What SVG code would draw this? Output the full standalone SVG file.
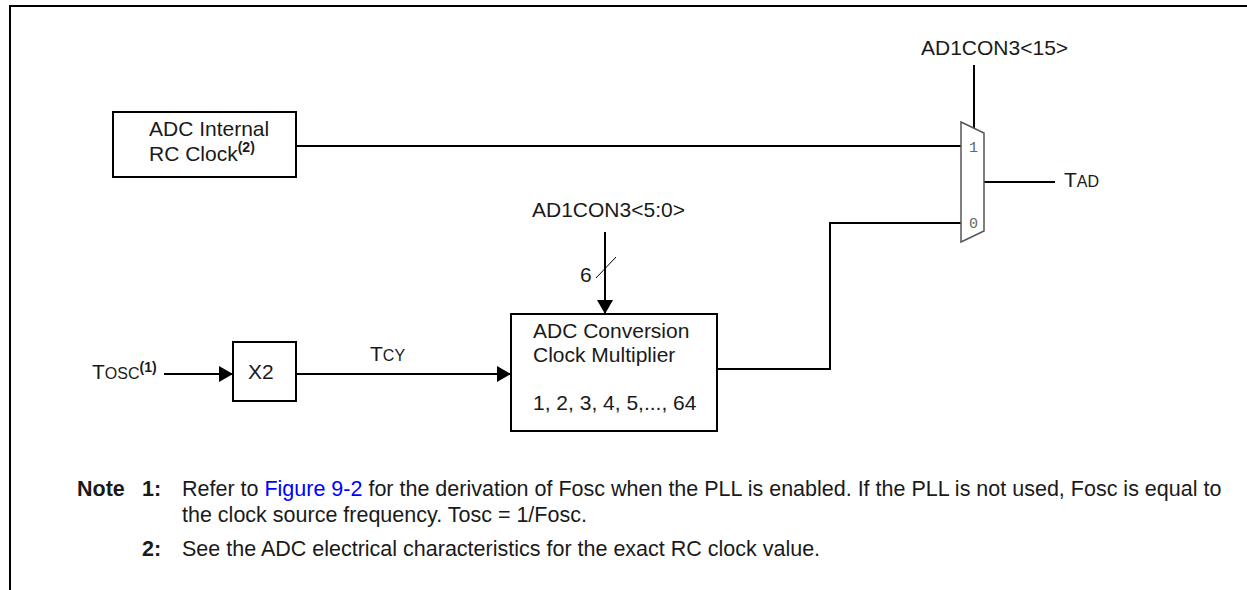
<svg xmlns="http://www.w3.org/2000/svg" width="1247" height="590" viewBox="0 0 1247 590">
<style>
text{font-family:"Liberation Sans",Arial,sans-serif;font-size:21px;fill:#1a1a1a}
.sc{font-size:16px}
.sup{font-size:14px;font-weight:bold}
.b{font-weight:bold}
.note{font-size:21.5px}
.box{fill:#fff;stroke:#000;stroke-width:2}
.w{fill:none;stroke:#000;stroke-width:2}
.mono{font-family:"Liberation Mono","DejaVu Sans Mono",monospace;font-size:15px;fill:#666}
.link{fill:#0000ff}
</style>
<defs>
<marker id="ah" viewBox="0 0 14 16" refX="14" refY="8" markerWidth="14" markerHeight="16" markerUnits="userSpaceOnUse" orient="auto">
<path d="M0,0 L14,8 L0,16 Z" fill="#000"/>
</marker>
</defs>
<rect width="1247" height="590" fill="#fff"/>
<path d="M10,590 V6 H1247" fill="none" stroke="#000" stroke-width="2"/>

<g id="connectors">
<path class="w" d="M296,146 H961"/>
<path class="w" d="M974,65 V128"/>
<path class="w" d="M984,182 H1055"/>
<path class="w" d="M164,374 H233" marker-end="url(#ah)"/>
<path class="w" d="M296,374 H511" marker-end="url(#ah)"/>
<path class="w" d="M605,232 V314" marker-end="url(#ah)"/>
<path d="M596,278 L616,257" stroke="#000" stroke-width="1"/>
<path class="w" d="M717,369 H830 V223 H961"/>
</g>

<g id="rc-clock">
<rect class="box" x="113" y="112" width="183" height="65"/>
<text x="149" y="136">ADC Internal</text>
<text x="149" y="161">RC Clock<tspan class="sup" dy="-9">(2)</tspan></text>
</g>

<g id="mux">
<path d="M961,122 L984,133 L984,231 L961,242 Z" fill="#fff" stroke="#555" stroke-width="1.5"/>
<text class="mono" x="969" y="152">1</text>
<text class="mono" x="969" y="228">0</text>
</g>

<g id="ad1con3-15">
<text x="921" y="55">AD1CON3&lt;15&gt;</text>
</g>

<g id="tad">
<text x="1064" y="187">T<tspan class="sc">AD</tspan></text>
</g>

<g id="tosc">
<text x="92" y="379">T<tspan class="sc">OSC</tspan><tspan class="sup" dy="-7">(1)</tspan></text>
</g>

<g id="x2">
<rect class="box" x="233" y="342" width="63" height="59"/>
<text x="248" y="379">X2</text>
</g>

<g id="tcy">
<text x="370" y="361">T<tspan class="sc">CY</tspan></text>
</g>

<g id="ad1con3-5-0">
<text x="532" y="217">AD1CON3&lt;5:0&gt;</text>
<text x="580" y="282">6</text>
</g>

<g id="multiplier">
<rect class="box" x="511" y="314" width="206" height="117"/>
<text x="533" y="338">ADC Conversion</text>
<text x="533" y="362">Clock Multiplier</text>
<text x="533" y="410">1, 2, 3, 4, 5,..., 64</text>
</g>

<g id="notes">
<text class="note b" x="77" y="496">Note</text>
<text class="note b" x="142" y="496">1:</text>
<text class="note" x="182" y="496">Refer to <tspan class="link">Figure 9-2</tspan> for the derivation of Fosc when the PLL is enabled. If the PLL is not used, Fosc is equal to</text>
<text class="note" x="182" y="522">the clock source frequency. Tosc = 1/Fosc.</text>
<text class="note b" x="142" y="556">2:</text>
<text class="note" x="182" y="556">See the ADC electrical characteristics for the exact RC clock value.</text>
</g>
</svg>
